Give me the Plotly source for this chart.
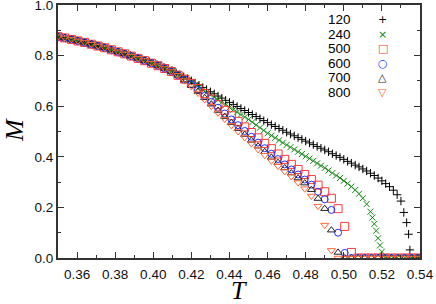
import plotly.graph_objects as go

# ---------------- data ----------------
T120 = [
    0.350, 0.352, 0.354, 0.356, 0.358, 0.360, 0.362, 0.364, 0.366, 0.368,
    0.370, 0.372, 0.374, 0.376, 0.378, 0.380, 0.382, 0.384, 0.386, 0.388,
    0.390, 0.392, 0.394, 0.396, 0.398, 0.400, 0.402, 0.404, 0.406, 0.408,
    0.410, 0.412, 0.414, 0.416, 0.418, 0.420, 0.422, 0.424, 0.426, 0.428,
    0.430, 0.432, 0.434, 0.436, 0.438, 0.440, 0.442, 0.444, 0.446, 0.448,
    0.450, 0.452, 0.454, 0.456, 0.458, 0.460, 0.462, 0.464, 0.466, 0.468,
    0.470, 0.472, 0.474, 0.476, 0.478, 0.480, 0.482, 0.484, 0.486, 0.488,
    0.490, 0.492, 0.494, 0.496, 0.498, 0.500, 0.502, 0.504, 0.506, 0.508,
    0.510, 0.512, 0.514, 0.516, 0.518, 0.520, 0.522, 0.524, 0.526, 0.528,
    0.530, 0.5315, 0.533, 0.534, 0.5347, 0.536, 0.538, 0.540,
]
M120 = [
    0.875, 0.872, 0.869, 0.865, 0.862, 0.858, 0.855, 0.851, 0.848, 0.844,
    0.840, 0.836, 0.831, 0.827, 0.822, 0.818, 0.813, 0.809, 0.804, 0.800,
    0.795, 0.790, 0.785, 0.780, 0.775, 0.770, 0.764, 0.758, 0.752, 0.746,
    0.740, 0.732, 0.724, 0.716, 0.708, 0.700, 0.691, 0.683, 0.674, 0.666,
    0.657, 0.649, 0.640, 0.632, 0.623, 0.615, 0.607, 0.599, 0.591, 0.583,
    0.575, 0.567, 0.559, 0.551, 0.543, 0.535, 0.527, 0.520, 0.512, 0.505,
    0.497, 0.490, 0.483, 0.476, 0.469, 0.462, 0.455, 0.448, 0.441, 0.434,
    0.427, 0.420, 0.412, 0.405, 0.398, 0.390, 0.382, 0.375, 0.367, 0.360,
    0.352, 0.344, 0.335, 0.326, 0.316, 0.305, 0.294, 0.282, 0.268, 0.250,
    0.225, 0.180, 0.140, 0.094, 0.032, 0.0, 0.0, 0.0,
]

T240 = [
    0.350, 0.352, 0.354, 0.356, 0.358, 0.360, 0.362, 0.364, 0.366, 0.368,
    0.370, 0.372, 0.374, 0.376, 0.378, 0.380, 0.382, 0.384, 0.386, 0.388,
    0.390, 0.392, 0.394, 0.396, 0.398, 0.400, 0.402, 0.404, 0.406, 0.408,
    0.410, 0.412, 0.414, 0.416, 0.418, 0.420, 0.422, 0.424, 0.426, 0.428,
    0.430, 0.432, 0.434, 0.436, 0.438, 0.440, 0.442, 0.444, 0.446, 0.448,
    0.450, 0.452, 0.454, 0.456, 0.458, 0.460, 0.462, 0.464, 0.466, 0.468,
    0.470, 0.472, 0.474, 0.476, 0.478, 0.480, 0.482, 0.484, 0.486, 0.488,
    0.490, 0.492, 0.494, 0.496, 0.498, 0.500, 0.502, 0.504, 0.506, 0.508,
    0.510, 0.512, 0.514, 0.515, 0.516, 0.517, 0.518, 0.519, 0.520, 0.521,
    0.522, 0.524, 0.526, 0.528, 0.530, 0.532, 0.534, 0.536, 0.538, 0.540,
]
M240 = [
    0.875, 0.872, 0.869, 0.865, 0.862, 0.858, 0.855, 0.851, 0.848, 0.844,
    0.840, 0.836, 0.831, 0.827, 0.822, 0.818, 0.813, 0.809, 0.804, 0.800,
    0.795, 0.790, 0.785, 0.780, 0.775, 0.770, 0.764, 0.758, 0.752, 0.746,
    0.740, 0.730, 0.722, 0.713, 0.704, 0.695, 0.685, 0.675, 0.665, 0.655,
    0.645, 0.635, 0.625, 0.615, 0.605, 0.595, 0.586, 0.576, 0.567, 0.557,
    0.548, 0.537, 0.526, 0.515, 0.504, 0.493, 0.484, 0.475, 0.465, 0.456,
    0.447, 0.438, 0.429, 0.420, 0.411, 0.402, 0.393, 0.384, 0.374, 0.365,
    0.356, 0.346, 0.336, 0.326, 0.316, 0.305, 0.294, 0.282, 0.269, 0.254,
    0.236, 0.213, 0.183, 0.160, 0.135, 0.108, 0.078, 0.050, 0.025, 0.006,
    0.0, 0.0, 0.0, 0.0, 0.0, 0.0, 0.0, 0.0, 0.0, 0.0,
]

# larger systems share one temperature grid
T_BIG = [
    0.350, 0.3535, 0.357, 0.3605, 0.364, 0.3675, 0.371, 0.3745, 0.378, 0.3815,
    0.385, 0.3885, 0.392, 0.3955, 0.399, 0.4025, 0.406, 0.4095, 0.413, 0.4165,
    0.420, 0.4235, 0.427, 0.4305, 0.434, 0.4375, 0.441, 0.4445, 0.448, 0.4515,
    0.455, 0.4585, 0.462, 0.4655, 0.469, 0.4725, 0.476, 0.4795, 0.483, 0.4865,
    0.490, 0.4935, 0.497, 0.5005, 0.504, 0.5075, 0.511, 0.5145, 0.518, 0.5215,
    0.525, 0.5285, 0.532, 0.5355, 0.539,
]
M500 = [
    0.875, 0.870, 0.864, 0.858, 0.852, 0.845, 0.838, 0.831, 0.823, 0.815,
    0.807, 0.798, 0.789, 0.780, 0.770, 0.760, 0.749, 0.737, 0.722, 0.707,
    0.690, 0.670, 0.650, 0.628, 0.606, 0.584, 0.562, 0.540, 0.518, 0.496,
    0.475, 0.453, 0.432, 0.411, 0.390, 0.370, 0.350, 0.330, 0.310, 0.288,
    0.262, 0.236, 0.195, 0.125, 0.022, 0.0, 0.0, 0.0, 0.0, 0.0,
    0.0, 0.0, 0.0, 0.0, 0.0,
]
M600 = [
    0.875, 0.870, 0.864, 0.858, 0.852, 0.845, 0.838, 0.831, 0.823, 0.815,
    0.807, 0.798, 0.789, 0.780, 0.770, 0.760, 0.749, 0.737, 0.722, 0.705,
    0.686, 0.664, 0.641, 0.617, 0.594, 0.571, 0.548, 0.525, 0.502, 0.479,
    0.456, 0.434, 0.412, 0.391, 0.370, 0.350, 0.330, 0.310, 0.290, 0.262,
    0.232, 0.190, 0.100, 0.020, 0.0, 0.0, 0.0, 0.0, 0.0, 0.0,
    0.0, 0.0, 0.0, 0.0, 0.0,
]
M700 = [
    0.875, 0.870, 0.864, 0.858, 0.852, 0.845, 0.838, 0.831, 0.823, 0.815,
    0.807, 0.798, 0.789, 0.780, 0.770, 0.760, 0.749, 0.737, 0.722, 0.703,
    0.682, 0.658, 0.633, 0.608, 0.583, 0.559, 0.535, 0.511, 0.488, 0.465,
    0.442, 0.420, 0.398, 0.377, 0.356, 0.336, 0.316, 0.296, 0.270, 0.235,
    0.195, 0.110, 0.022, 0.0, 0.0, 0.0, 0.0, 0.0, 0.0, 0.0,
    0.0, 0.0, 0.0, 0.0, 0.0,
]
M800 = [
    0.875, 0.870, 0.864, 0.858, 0.852, 0.845, 0.838, 0.831, 0.823, 0.815,
    0.807, 0.798, 0.789, 0.780, 0.770, 0.760, 0.749, 0.737, 0.722, 0.701,
    0.678, 0.652, 0.626, 0.600, 0.574, 0.549, 0.524, 0.500, 0.476, 0.452,
    0.429, 0.406, 0.384, 0.363, 0.342, 0.322, 0.298, 0.274, 0.245, 0.205,
    0.130, 0.030, 0.0, 0.0, 0.0, 0.0, 0.0, 0.0, 0.0, 0.0,
    0.0, 0.0, 0.0, 0.0, 0.0,
]

SIZES = ["120", "240", "500", "600", "700", "800"]
X_TICKS = [0.36, 0.38, 0.40, 0.42, 0.44, 0.46, 0.48, 0.50, 0.52, 0.54]
Y_TICKS = [0.0, 0.2, 0.4, 0.6, 0.8, 1.0]

# ---------------- styles ----------------
series = [
    (T120, M120, "cross-thin-open", "#000000", 6),
    (T240, M240, "x-thin-open", "#118811", 6),
    (T_BIG, M500, "square-open", "#ff3838", 8),
    (T_BIG, M600, "circle-open", "#2233ff", 7),
    (T_BIG, M700, "triangle-up-open", "#222222", 7),
    (T_BIG, M800, "triangle-down-open", "#ff6633", 7),
]
glyphs = ["+", "×", "□", "○", "△", "▽"]

fig = go.Figure()
for (tx, my, sym, col, sz), name in zip(series, SIZES):
    fig.add_trace(go.Scatter(
        x=tx, y=my, mode="markers", name=name, showlegend=False,
        marker=dict(symbol=sym, size=sz, color=col,
                    line=dict(color=col, width=1)),
    ))

# legend drawn as text (label right-aligned, symbol to its right)
leg_y0, leg_dy = 0.941, 0.0572
for i, (name, g, s) in enumerate(zip(SIZES, glyphs, series)):
    y = leg_y0 - i * leg_dy
    fig.add_annotation(x=0.815, y=y, xref="paper", yref="paper", text=name,
                       showarrow=False, xanchor="right", yanchor="middle",
                       font=dict(family="Liberation Sans", size=13.5, color="#000"))
    fig.add_annotation(x=0.897, y=y, xref="paper", yref="paper", text=g,
                       showarrow=False, xanchor="center", yanchor="middle",
                       font=dict(family="DejaVu Sans", size=11, color=s[3]))

# axis titles
fig.add_annotation(x=0.5, y=-0.13, xref="paper", yref="paper", text="T",
                   showarrow=False, xanchor="center", yanchor="middle",
                   font=dict(family="Liberation Serif", size=26, style="italic",
                             color="#000"))
fig.add_annotation(x=-0.119, y=0.506, xref="paper", yref="paper", text="M",
                   showarrow=False, xanchor="center", yanchor="middle",
                   textangle=-90,
                   font=dict(family="Liberation Serif", size=26, style="italic",
                             color="#000"))

axis_common = dict(
    showline=True, linewidth=2, linecolor="#333333", mirror="ticks",
    ticks="inside", ticklen=6, tickwidth=1.2, tickcolor="#333333",
    showgrid=False, zeroline=False, automargin=False,
    ticklabeloverflow="allow",
    tickfont=dict(family="Liberation Sans", size=13.5, color="#111111"),
)
fig.update_xaxes(
    range=[0.35, 0.54], tickvals=X_TICKS,
    ticktext=[f"{v:.2f}" for v in X_TICKS],
    ticklabelstandoff=3,
    minor=dict(dtick=0.01, tick0=0.35, ticks="inside", ticklen=3,
               tickcolor="#333333", tickwidth=1.2, showgrid=False),
    **axis_common,
)
fig.update_yaxes(
    range=[0.0, 1.0], tickvals=Y_TICKS,
    ticktext=[f"{v:.1f}" for v in Y_TICKS],
    minor=dict(dtick=0.1, tick0=0.0, ticks="inside", ticklen=3,
               tickcolor="#333333", tickwidth=1.2, showgrid=False),
    **axis_common,
)
fig.update_layout(
    width=436, height=304,
    margin=dict(l=58, r=16, t=5, b=46),
    plot_bgcolor="white", paper_bgcolor="white",
)
fig.write_html("out.html",
               config={"displayModeBar": False},
               post_script="document.body.style.margin='0';"
                           "document.body.style.overflow='hidden';")
